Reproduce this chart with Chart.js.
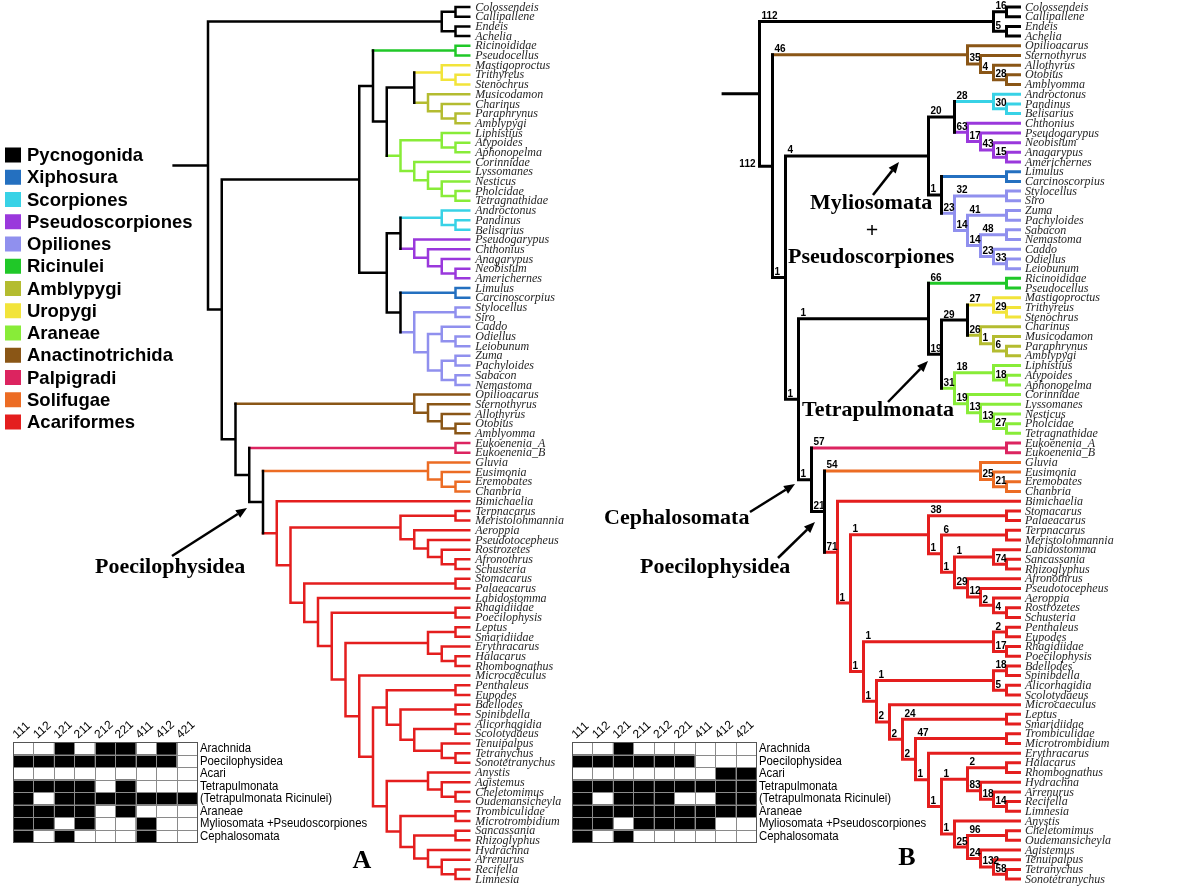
<!DOCTYPE html>
<html>
<head>
<meta charset="utf-8">
<title>Arachnida phylogeny – trees A and B</title>
<script src="https://cdn.jsdelivr.net/npm/chart.js@4.4.1/dist/chart.umd.min.js"></script>
<style>
html,body{margin:0;padding:0;background:#ffffff;overflow:hidden;}
canvas{display:block;}
</style>
</head>
<body>
<canvas id="chart" width="1200" height="887"></canvas>
<script>
// ================= DATA =================
// Taxon groups (legend categories)
const groupNames = ['Pycnogonida','Xiphosura','Scorpiones','Pseudoscorpiones','Opiliones','Ricinulei','Amblypygi','Uropygi','Araneae','Anactinotrichida','Palpigradi','Solifugae','Acariformes'];

// Tree A (Newick; number after ')' = node rank along the tree, #Group = coloured clade)
const A_Pycnogonida = "((Colossendeis,Callipallene)18,(Endeis,Achelia)18)17#Pycnogonida";
const A_Ricinulei = "(Ricinoididae,Pseudocellus)18#Ricinulei";
const A_Uropygi = "(Mastigoproctus,(Trithyreus,Stenochrus)18)17#Uropygi";
const A_Amblypygi = "(Musicodamon,(Charinus,(Paraphrynus,Amblypygi)18)17)16#Amblypygi";
const A_Araneae = "((Liphistius,(Atypoides,Aphonopelma)18)17,(Corinnidae,(Lyssomanes,(Nesticus,(Pholcidae,Tetragnathidae)18)17)16)15)14#Araneae";
const A_Scorpiones = "(Androctonus,(Pandinus,Belisarius)18)17#Scorpiones";
const A_Pseudoscorpiones = "(Pseudogarypus,(Chthonius,(Anagarypus,(Neobisium,Americhernes)18)17)16)15#Pseudoscorpiones";
const A_Xiphosura = "(Limulus,Carcinoscorpius)18#Xiphosura";
const A_Opiliones = "((Stylocellus,Siro)18,((Caddo,(Odiellus,Leiobunum)18)17,((Zuma,Pachyloides)18,(Sabacon,Nemastoma)18)17)16)15#Opiliones";
const A_Anactinotrichida = "(Opilioacarus,(Sternothyrus,(Allothyrus,(Otobius,Amblyomma)18)17)16)15#Anactinotrichida";
const A_Palpigradi = "(Eukoenenia_A,Eukoenenia_B)18#Palpigradi";
const A_Solifugae = "(Gluvia,(Eusimonia,(Eremobates,Chanbria)18)17)16#Solifugae";
const A_Oribatida = "((Terpnacarus,Meristolohmannia)18,(Aeroppia,(Pseudotocepheus,(Rostrozetes,(Afronothrus,Schusteria)18)17)16)15)14";
const A_Leptus = "((Leptus,Smaridiidae)18,(Erythracarus,(Halacarus,Rhombognathus)18)17)16";
const A_Eupodina = "((Penthaleus,Eupodes)18,((Bdellodes,Spinibdella)18,((Alicorhagidia,Scolotydaeus)18,(Tenuipalpus,(Tetranychus,Sonotetranychus)18)17)15)14)13";
const A_Parasitengona = "((Anystis,(Agistemus,(Cheletomimus,Oudemansicheyla)18)17)16,((Trombiculidae,Microtrombidium)18,((Sancassania,Rhizoglyphus)18,(Hydrachna,(Arrenurus,(Recifella,Limnesia)18)17)16)15)14)13";
const A_Acariformes = `(Bimichaelia,(${A_Oribatida},((Stomacarus,Palaeacarus)18,(Labidostomma,((Rhagidiidae,Poecilophysis)18,(${A_Leptus},(Microcaeculus,(${A_Eupodina},${A_Parasitengona})12)11)10)9)8)7)6)5#Acariformes`;
const TREE_A = `(${A_Pycnogonida},(((${A_Ricinulei},((${A_Uropygi},${A_Amblypygi})15,${A_Araneae})13)12,((${A_Scorpiones},${A_Pseudoscorpiones})14,(${A_Xiphosura},${A_Opiliones})14)13)11,(${A_Anactinotrichida},(${A_Palpigradi},(${A_Solifugae},${A_Acariformes})4)3)2)1)0`;

// Tree B (':n' = support value on the branch leading to the node)
const B_Pycnogonida = "((Colossendeis,Callipallene)19:16,(Endeis,Achelia)19:5)18#Pycnogonida:112";
const B_Anactinotrichida = "(Opilioacarus,(Sternothyrus,(Allothyrus,(Otobius,Amblyomma)19:28)18:4)17:35)16#Anactinotrichida:46";
const B_Scorpiones = "(Androctonus,(Pandinus,Belisarius)19:30)18#Scorpiones:28";
const B_Pseudoscorpiones = "(Chthonius,(Pseudogarypus,(Neobisium,(Anagarypus,Americhernes)19:15)18:43)17:17)16#Pseudoscorpiones:63";
const B_Xiphosura = "(Limulus,Carcinoscorpius)19#Xiphosura";
const B_Opiliones = "((Stylocellus,Siro)19:32,((Zuma,Pachyloides)19:41,((Sabacon,Nemastoma)19:48,(Caddo,(Odiellus,Leiobunum)19:33)18:23)17:14)16:14)15#Opiliones:23";
const B_Myliosomata = `((${B_Scorpiones},${B_Pseudoscorpiones})15:20,(${B_Xiphosura},${B_Opiliones})14:1)13:4`;
const B_Ricinulei = "(Ricinoididae,Pseudocellus)19#Ricinulei:66";
const B_Uropygi = "(Mastigoproctus,(Trithyreus,Stenochrus)19:29)18#Uropygi:27";
const B_Amblypygi = "(Charinus,(Musicodamon,(Paraphrynus,Amblypygi)19:6)18:1)17#Amblypygi:26";
const B_Araneae = "((Liphistius,(Atypoides,Aphonopelma)19:18)18:18,(Corinnidae,(Lyssomanes,(Nesticus,(Pholcidae,Tetragnathidae)19:27)18:13)17:13)16:19)15#Araneae:31";
const B_Tetrapulmonata = `(${B_Ricinulei},((${B_Uropygi},${B_Amblypygi})16:29,${B_Araneae})14:19)13:1`;
const B_Palpigradi = "(Eukoenenia_A,Eukoenenia_B)19#Palpigradi:57";
const B_Solifugae = "(Gluvia,(Eusimonia,(Eremobates,Chanbria)19:21)18:25)17#Solifugae:54";
const B_Oribatida = "((Stomacarus,Palaeacarus)19:38,((Terpnacarus,Meristolohmannia)19:6,((Labidostomma,(Sancassania,Rhizoglyphus)19:74)18:1,(Afronothrus,(Pseudotocepheus,(Aeroppia,(Rostrozetes,Schusteria)19:4)18:2)17:12)16:29)15:1)14:1)13:1";
const B_Eupodina = "((Penthaleus,Eupodes)19:2,(Rhagidiidae,Poecilophysis)19:17)18:1";
const B_Bdelloidea = "((Bdellodes,Spinibdella)19:18,(Alicorhagidia,Scolotydaeus)19:5)18:1";
const B_Halacaroidea = "((Halacarus,Rhombognathus)19:2,(Hydrachna,(Arrenurus,(Recifella,Limnesia)19:14)18:18)17:83)16:1";
const B_Anystina = "(Anystis,((Cheletomimus,Oudemansicheyla)19:96,(Agistemus,(Tenuipalpus,(Tetranychus,Sonotetranychus)19:58)18:132)17:24)16:25)15:1";
const B_Prostigmata = `(${B_Bdelloidea},(Microcaeculus,((Leptus,Smaridiidae)19:24,((Trombiculidae,Microtrombidium)19:47,(Erythracarus,(${B_Halacaroidea},${B_Anystina})14:1)13:1)12:2)11:2)10:2)9:1`;
const B_Acariformes = `(Bimichaelia,(${B_Oribatida},(${B_Eupodina},${B_Prostigmata})8:1)7:1)6#Acariformes:71`;
const TREE_B = `(${B_Pycnogonida},(${B_Anactinotrichida},(${B_Myliosomata},(${B_Tetrapulmonata},(${B_Palpigradi},(${B_Solifugae},${B_Acariformes})5:21)4:1)3:1)2:1)1:112<)0`;

// Character-state matrices
const matrixColumns = ['111','112','121','211','212','221','411','412','421'];
const matrixRows = ['Arachnida','Poecilophysidea','Acari','Tetrapulmonata','(Tetrapulmonata Ricinulei)','Araneae','Myliosomata +Pseudoscorpiones','Cephalosomata'];
const matrixA = [
  [0,0,1,0,1,1,0,1,0],
  [1,1,1,1,1,1,1,1,0],
  [0,0,0,0,0,0,0,0,0],
  [1,1,1,1,0,1,0,0,0],
  [1,0,1,1,1,1,1,1,1],
  [1,1,1,1,0,1,0,0,0],
  [1,1,0,1,0,0,1,0,0],
  [1,0,1,0,0,0,1,0,0]
];
const matrixB = [
  [0,0,1,0,0,0,0,0,0],
  [1,1,1,1,1,1,0,0,0],
  [0,0,0,0,0,0,0,1,1],
  [1,1,1,1,1,1,1,1,1],
  [1,0,1,1,1,0,0,1,1],
  [1,1,1,1,1,1,1,1,1],
  [1,1,0,1,1,1,1,0,0],
  [1,0,1,0,0,0,0,0,0]
];
const calloutTexts = ['Poecilophysidea','Myliosomata','+','Pseudoscorpiones','Tetrapulmonata','Cephalosomata','Poecilophysidea'];
const panelLetters = ['A','B'];

// ================= STYLE / LAYOUT =================
const groupColors = {
  Pycnogonida:'#000000', Xiphosura:'#2470c0', Scorpiones:'#38d2e6', Pseudoscorpiones:'#9a38dc',
  Opiliones:'#9090ee', Ricinulei:'#20c828', Amblypygi:'#b4bc30', Uropygi:'#f2e43a',
  Araneae:'#88ec38', Anactinotrichida:'#8a5616', Palpigradi:'#dc2460', Solifugae:'#ec6c24', Acariformes:'#e41e1e'
};
const TIP_A = 19, TIP_B = 20;
const L = {
  aOrigin:208, aStep:13.75, bOrigin:759.5, bStep:13.0,
  tipTop:7, tipStep:9.69, W:1200, H:887,
  stubA:-2.5, stubB:-2.8,
  matA:13, matB:572, matTop:742, colW:20.44, rowH:12.5,
  legX:5, legTop:155, legStep:22.25
};
const calloutPos = [[95,567],[810,203],[872,231],[788,257],[802,410],[604,518],[640,567]];
const arrowPos = [[172,556,247,508],[873,195,899,162],[888,402,928,361],[750,512,795,484],[778,558,815,522]];
const letterPos = [[362,861],[907,858]];

// ================= TREE BUILDING =================
function buildTree(newick, tipLevel) {
  const src = newick.replace(/\s+/g,'');
  let i = 0; const tips = [];
  function node() {
    if (src[i] === '(') {
      i++; const children = [];
      for (;;) {
        children.push(node());
        const ch = src[i++];
        if (ch === ',') continue;
        if (ch === ')') break;
        throw new Error('parse error at ' + i);
      }
      const m = /^(-?\d+(?:\.\d+)?)(?:#([A-Za-z_]+))?(?::(\d+))?(<)?/.exec(src.slice(i));
      i += m[0].length;
      return {children, level:+m[1], group:m[2]||null, support:m[3]||null, left:!!m[4]};
    }
    const m = /^[A-Za-z_]+/.exec(src.slice(i));
    i += m[0].length;
    const leaf = {name:m[0], level:tipLevel, y:tips.length, leaf:true};
    tips.push(leaf);
    return leaf;
  }
  const root = node();
  (function place(n){
    if (n.leaf) return n.y;
    n.children.forEach(place);
    n.y = (n.children[0].y + n.children[n.children.length-1].y) / 2;
    return n.y;
  })(root);
  const segs = [], supports = [];
  (function walk(n, col){
    if (n.leaf) return;
    const first = n.children[0], last = n.children[n.children.length-1];
    segs.push({color:col, a:[n.level, first.y], b:[n.level, last.y]});
    n.children.forEach(ch => {
      const cc = ch.group ? groupColors[ch.group] : col;
      segs.push({color:cc, a:[n.level, ch.y], b:[ch.level, ch.y]});
      if (ch.support) supports.push({text:ch.support, parentLevel:n.level, y:ch.y, left:ch.left});
      walk(ch, cc);
    });
  })(root, root.group ? groupColors[root.group] : '#000000');
  return {root, tips, segs, supports};
}

const treeA = buildTree(TREE_A, TIP_A);
const treeB = buildTree(TREE_B, TIP_B);
treeA.segs.unshift({color:'#000000', a:[L.stubA, treeA.root.y], b:[treeA.root.level, treeA.root.y]});
treeB.segs.unshift({color:'#000000', a:[L.stubB, treeB.root.y], b:[treeB.root.level, treeB.root.y]});

function toDatasets(tree, xAxisID, width) {
  const byColor = new Map();
  for (const s of tree.segs) {
    if (!byColor.has(s.color)) byColor.set(s.color, []);
    const d = byColor.get(s.color);
    d.push({x:s.a[0], y:s.a[1]}, {x:s.b[0], y:s.b[1]}, {x:null, y:null});
  }
  const out = [];
  byColor.forEach((data, color) => out.push({
    data, xAxisID, yAxisID:'yT', showLine:true, borderColor:color, backgroundColor:color,
    borderWidth:width, pointRadius:0, pointHoverRadius:0, spanGaps:false, fill:false,
    borderCapStyle:'square', borderJoinStyle:'miter', clip:false,
    order: color === '#000000' ? 0 : 1
  }));
  return out;
}
const datasets = [...toDatasets(treeA, 'xA', 2.5), ...toDatasets(treeB, 'xB', 3)];

// ================= DRAWING PLUGIN =================
function drawArrow(ctx, x1, y1, x2, y2) {
  const ang = Math.atan2(y2-y1, x2-x1), hl = 11, hw = 4.5;
  const bx = x2 - hl*Math.cos(ang), by = y2 - hl*Math.sin(ang);
  ctx.strokeStyle = '#000'; ctx.lineWidth = 2.5; ctx.lineCap = 'butt';
  ctx.beginPath(); ctx.moveTo(x1, y1); ctx.lineTo(bx, by); ctx.stroke();
  ctx.fillStyle = '#000';
  ctx.beginPath();
  ctx.moveTo(x2, y2);
  ctx.lineTo(bx + hw*Math.sin(ang), by - hw*Math.cos(ang));
  ctx.lineTo(bx - hw*Math.sin(ang), by + hw*Math.cos(ang));
  ctx.closePath(); ctx.fill();
}

function drawMatrix(ctx, xs, ys, values) {
  const nR = matrixRows.length, nC = matrixColumns.length;
  const X = c => xs.getPixelForValue(c), Y = r => ys.getPixelForValue(r);
  ctx.fillStyle = '#000';
  for (let r = 0; r < nR; r++) for (let c = 0; c < nC; c++) {
    if (values[r][c]) ctx.fillRect(X(c), Y(r), X(c+1)-X(c), Y(r+1)-Y(r));
  }
  ctx.strokeStyle = '#8a8a8a'; ctx.lineWidth = 1;
  ctx.beginPath();
  for (let c = 0; c <= nC; c++) { const x = Math.round(X(c))+0.5; ctx.moveTo(x, Y(0)); ctx.lineTo(x, Y(nR)); }
  for (let r = 0; r <= nR; r++) { const y = Math.round(Y(r))+0.5; ctx.moveTo(X(0), y); ctx.lineTo(X(nC), y); }
  ctx.stroke();
  ctx.strokeStyle = '#555'; ctx.strokeRect(Math.round(X(0))+0.5, Math.round(Y(0))+0.5, Math.round(X(nC)-X(0)), Math.round(Y(nR)-Y(0)));
  ctx.fillStyle = '#000';
  ctx.font = '12.5px "Liberation Sans", Arial, sans-serif';
  ctx.textAlign = 'left'; ctx.textBaseline = 'middle';
  matrixRows.forEach((lab, r) => {
    ctx.save();
    ctx.translate(X(nC)+3, (Y(r)+Y(r+1))/2 + 0.5);
    ctx.scale(0.91, 1);
    ctx.fillText(lab, 0, 0);
    ctx.restore();
  });
  ctx.font = '12px "Liberation Sans", Arial, sans-serif';
  ctx.textBaseline = 'alphabetic';
  matrixColumns.forEach((lab, c) => {
    ctx.save();
    ctx.translate(X(c)+4, Y(0)-3);
    ctx.rotate(-42*Math.PI/180);
    ctx.fillText(lab, 0, 0);
    ctx.restore();
  });
}

const phyloPlugin = {
  id: 'phylo',
  beforeDraw(chart) {
    const c = chart.ctx; c.save(); c.fillStyle = '#fff'; c.fillRect(0, 0, chart.width, chart.height); c.restore();
  },
  afterDatasetsDraw(chart) {
    const ctx = chart.ctx, S = chart.scales;
    ctx.save();
    // tip labels
    ctx.font = 'italic 12px "Liberation Serif", "Times New Roman", serif';
    ctx.fillStyle = '#262626'; ctx.textAlign = 'left'; ctx.textBaseline = 'middle';
    const xa = S.xA.getPixelForValue(TIP_A) + 6, xb = S.xB.getPixelForValue(TIP_B) + 5.5;
    treeA.tips.forEach(t => ctx.fillText(t.name, xa, S.yT.getPixelForValue(t.y) + 0.5));
    treeB.tips.forEach(t => ctx.fillText(t.name, xb, S.yT.getPixelForValue(t.y) + 0.5));
    // support values (tree B)
    ctx.font = 'bold 10px "Liberation Sans", Arial, sans-serif';
    ctx.fillStyle = '#000'; ctx.textBaseline = 'alphabetic';
    treeB.supports.forEach(s => {
      const px = S.xB.getPixelForValue(s.parentLevel), py = S.yT.getPixelForValue(s.y);
      if (s.left) { ctx.textAlign = 'right'; ctx.fillText(s.text, px - 4, py + 1); }
      else { ctx.textAlign = 'left'; ctx.fillText(s.text, px + 2, py - 2.5); }
    });
    // legend
    ctx.textAlign = 'left'; ctx.textBaseline = 'middle';
    ctx.font = 'bold 18.5px "Liberation Sans", Arial, sans-serif';
    groupNames.forEach((g, i) => {
      const cx = S.xF.getPixelForValue(L.legX), cy = S.yF.getPixelForValue(L.legTop + i*L.legStep);
      ctx.fillStyle = groupColors[g];
      ctx.fillRect(cx, cy - 7.5, 16, 15);
      ctx.fillStyle = '#000';
      ctx.fillText(g, cx + 22, cy + 1);
    });
    // matrices
    drawMatrix(ctx, S.xMA, S.yM, matrixA);
    drawMatrix(ctx, S.xMB, S.yM, matrixB);
    // callouts and arrows
    ctx.fillStyle = '#000'; ctx.textBaseline = 'middle';
    ctx.font = 'bold 22px "Liberation Serif", "Times New Roman", serif';
    calloutTexts.forEach((t, i) => {
      ctx.textAlign = t === '+' ? 'center' : 'left';
      ctx.fillText(t, S.xF.getPixelForValue(calloutPos[i][0]), S.yF.getPixelForValue(calloutPos[i][1]));
    });
    arrowPos.forEach(a => drawArrow(ctx, S.xF.getPixelForValue(a[0]), S.yF.getPixelForValue(a[1]), S.xF.getPixelForValue(a[2]), S.yF.getPixelForValue(a[3])));
    // panel letters
    ctx.font = 'bold 26px "Liberation Serif", "Times New Roman", serif';
    ctx.textAlign = 'center';
    panelLetters.forEach((t, i) => ctx.fillText(t, S.xF.getPixelForValue(letterPos[i][0]), S.yF.getPixelForValue(letterPos[i][1])));
    ctx.restore();
  }
};

const hidden = (min, max, reverse) => ({type:'linear', display:false, min, max, reverse:!!reverse, bounds:'data', grid:{display:false}, ticks:{display:false}});

new Chart(document.getElementById('chart'), {
  type: 'scatter',
  data: { datasets },
  options: {
    responsive: false, animation: false, devicePixelRatio: 1, events: [],
    layout: { padding: 0 },
    plugins: { legend: { display:false }, tooltip: { enabled:false }, title: { display:false } },
    scales: {
      x: hidden(0, 1), y: hidden(0, 1),
      xA: hidden(-L.aOrigin/L.aStep, (L.W-L.aOrigin)/L.aStep),
      xB: hidden(-L.bOrigin/L.bStep, (L.W-L.bOrigin)/L.bStep),
      yT: hidden(-L.tipTop/L.tipStep, (L.H-L.tipTop)/L.tipStep, true),
      xF: hidden(0, L.W), yF: hidden(0, L.H, true),
      xMA: hidden(-L.matA/L.colW, (L.W-L.matA)/L.colW),
      xMB: hidden(-L.matB/L.colW, (L.W-L.matB)/L.colW),
      yM: hidden(-L.matTop/L.rowH, (L.H-L.matTop)/L.rowH, true)
    }
  },
  plugins: [phyloPlugin]
});
</script>
</body>
</html>
